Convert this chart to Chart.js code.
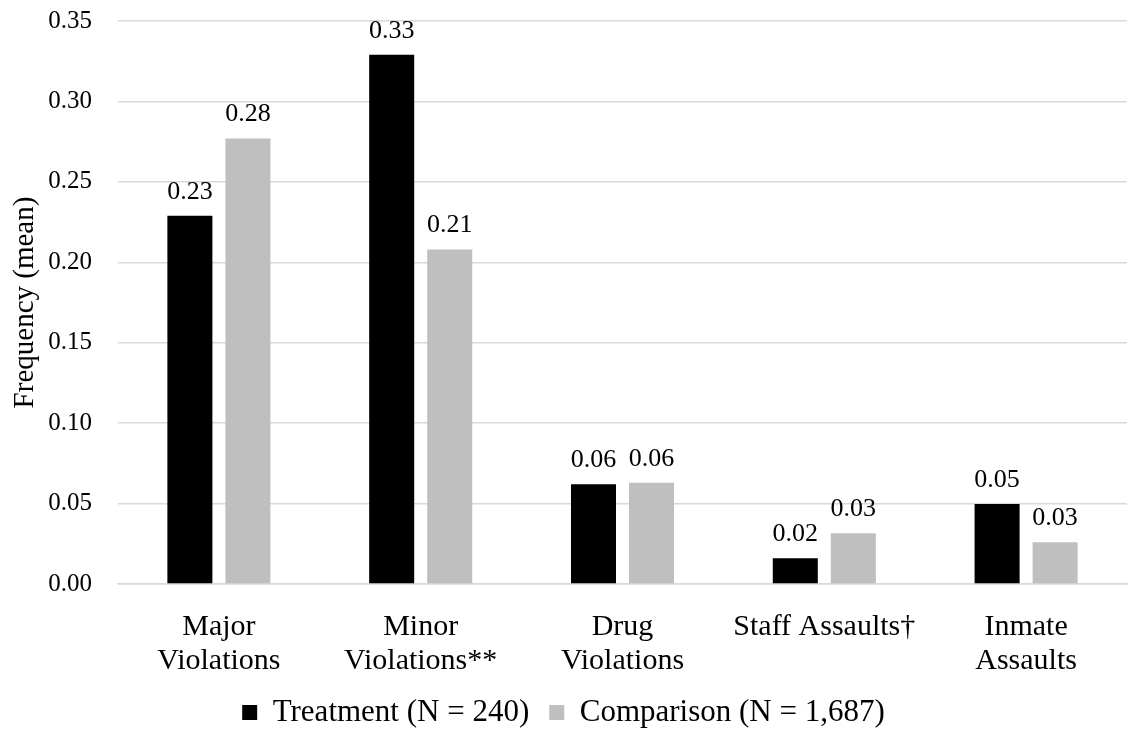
<!DOCTYPE html>
<html>
<head>
<meta charset="utf-8">
<script src="https://cdn.jsdelivr.net/npm/chart.js@4/dist/chart.umd.min.js"></script>
<style>
  html, body { margin: 0; padding: 0; background: #ffffff; }
  #wrap { width: 1133px; height: 738px; }
</style>
</head>
<body>
<div id="wrap"><canvas id="chart" width="1133" height="738"></canvas></div>
<script>
// Misconduct outcomes per group
const categories = [
  ['Major', 'Violations'],
  ['Minor', 'Violations**'],
  ['Drug', 'Violations'],
  'Staff Assaults\u2020',
  ['Inmate', 'Assaults']
];
const treatmentLabel = 'Treatment (N = 240)';
const comparisonLabel = 'Comparison (N = 1,687)';
const treatmentValues = [0.229, 0.329, 0.062, 0.016, 0.0498];
const comparisonValues = [0.277, 0.208, 0.063, 0.0315, 0.026];
const yTicks = [0.00, 0.05, 0.10, 0.15, 0.20, 0.25, 0.30, 0.35];

const serif = '"Liberation Serif", "Times New Roman", serif';

// Prints each bar's mean above it, rounded to two decimals
const valueLabels = {
  id: 'valueLabels',
  afterDatasetsDraw(chart) {
    const ctx = chart.ctx;
    ctx.save();
    ctx.font = '26px ' + serif;
    ctx.fillStyle = '#000000';
    ctx.textAlign = 'center';
    ctx.textBaseline = 'alphabetic';
    chart.data.datasets.forEach((ds, i) => {
      chart.getDatasetMeta(i).data.forEach((bar, j) => {
        ctx.fillText(ds.data[j].toFixed(2), bar.x, bar.y - 17);
      });
    });
    ctx.restore();
  }
};

new Chart(document.getElementById('chart'), {
  type: 'bar',
  data: {
    labels: categories,
    datasets: [
      { label: treatmentLabel, data: treatmentValues, backgroundColor: '#000000',
        categoryPercentage: 0.575, barPercentage: 0.776 },
      { label: comparisonLabel, data: comparisonValues, backgroundColor: '#bfbfbf',
        categoryPercentage: 0.575, barPercentage: 0.776 }
    ]
  },
  options: {
    responsive: false,
    animation: false,
    layout: { padding: { top: 21, right: 6, bottom: 0, left: 0 } },
    plugins: {
      tooltip: { enabled: false },
      legend: {
        position: 'bottom',
        labels: {
          color: '#000000',
          font: { family: serif, size: 31 },
          boxWidth: 15,
          boxHeight: 15,
          padding: 20
        }
      }
    },
    scales: {
      x: {
        grid: { display: false, drawTicks: false },
        border: { display: true, color: '#d9d9d9', width: 1.5 },
        ticks: {
          color: '#000000',
          font: { family: serif, size: 30, lineHeight: 1.133 },
          padding: 26,
          maxRotation: 0,
          autoSkip: false
        },
        afterFit(scale) { scale.height = 93; }
      },
      y: {
        min: 0,
        max: 0.35,
        afterBuildTicks(scale) { scale.ticks = yTicks.map(v => ({ value: v })); },
        grid: { color: '#d9d9d9', lineWidth: 1.5, drawTicks: false },
        border: { display: false },
        ticks: {
          color: '#000000',
          font: { family: serif, size: 25 },
          padding: 26,
          callback: v => Number(v).toFixed(2)
        },
        title: {
          display: true,
          text: 'Frequency (mean)',
          color: '#000000',
          font: { family: serif, size: 29 },
          padding: { top: 8, bottom: 0 }
        },
        afterFit(scale) {
          scale.width = 118;
          scale.paddingTop = 0;
        }
      }
    }
  },
  plugins: [valueLabels]
});
</script>
</body>
</html>
